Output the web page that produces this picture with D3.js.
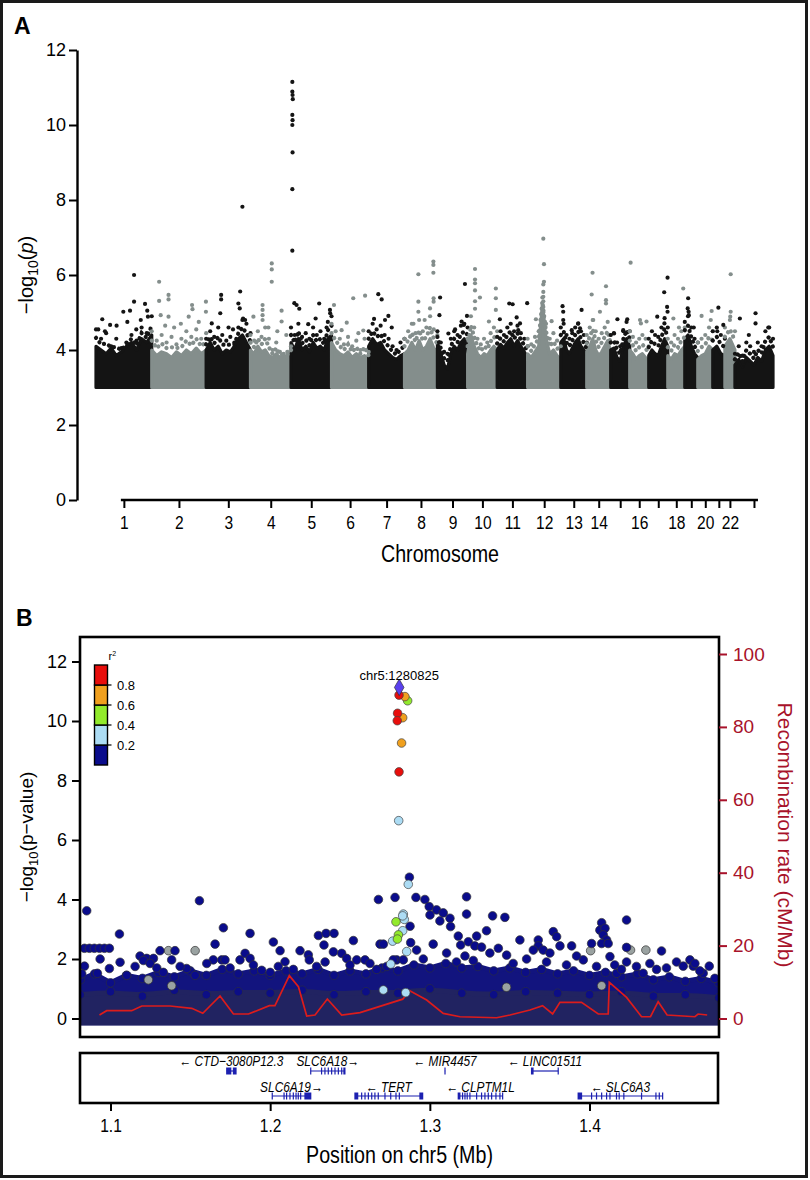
<!DOCTYPE html>
<html><head><meta charset="utf-8">
<script src="https://cdn.jsdelivr.net/npm/d3@7"></script>
<style>body{margin:0;background:#fff}svg{display:block}</style>
</head><body>
<svg id="chart" width="810" height="1180"></svg>
<script>
// ================= DATA =================
// Panel A: Manhattan plot
const chromNames = ["1","2","3","4","5","6","7","8","9","10","11","12","13","14","15","16","17","18","19","20","21","22","23"];
const chromSpanMb = [249,243,198,181,181,166,160,147,135,132,136,148,116,107,85,85,85,76,58,67,54,45,170];
const chromTickLabels = ["1","2","3","4","5","6","7","8","9","10","11","12","13","14","","16","","18","","20","","22",""];
const gwasFloor = 3;
const yTicksA = [0,2,4,6,8,10,12];
// top of the solid mass of SNPs, sampled evenly along each chromosome (-log10 p)
const denseCore = [
  [4.1,4.0,3.9,4.05,3.85,3.95,4.1,4.2,4.0,4.3,4.2,4.4],
  [4.0,3.85,3.95,3.9,3.8,3.95,3.85,4.0,3.9,4.05,3.9,4.0],
  [4.0,4.2,4.0,4.1,3.9,4.0,3.95,4.1,4.3,4.4,4.2,4.0],
  [4.0,3.9,4.1,3.95,4.0,3.85,3.8,3.9,3.8,3.85,3.8,3.9],
  [4.2,4.0,4.3,4.0,4.1,3.95,4.2,4.05,4.1,4.0,4.3,4.4],
  [4.2,4.0,3.9,3.85,3.95,3.8,3.9,3.8,3.85,3.75],
  [4.1,4.3,4.15,4.2,4.0,3.9,3.8,3.75,3.85,3.9],
  [3.9,4.0,4.2,4.0,4.25,4.0,4.1,4.3,4.05,3.95],
  [4.2,3.9,3.6,3.5,3.9,4.1,4.0,4.2,4.3,4.2],
  [3.9,4.4,4.1,3.9,3.8,3.9,3.85,4.0,4.1,4.0],
  [4.0,4.15,4.05,4.2,4.3,4.1,4.25,4.1,3.95,3.8],
  [3.9,3.8,3.95,4.1,5.2,4.3,3.9,4.0,3.85,3.75],
  [4.2,4.3,4.0,3.9,4.05,4.2,4.3,4.1,4.0,3.85],
  [3.95,4.1,4.3,4.0,3.85,3.95,4.1,4.25,3.95],
  [4.0,4.05,3.8,3.7,4.1,4.3,4.1],
  [4.0,3.9,3.75,3.85,3.9,3.8,3.7],
  [3.85,4.0,3.9,3.85,4.1,4.3,4.1],
  [3.85,3.75,3.9,3.85,4.0,4.1],
  [4.3,4.4,4.1,3.9,3.8],
  [3.75,3.85,3.9,4.1,4.0],
  [4.0,4.1,3.9,3.85],
  [4.1,4.3,4.0],
  [3.6,3.75,3.55,3.8,3.7,3.6,3.8,3.7,4.0,4.1,3.85]
];
// scattered SNPs just above the solid mass, sampled evenly along each chromosome
const denseFringe = [
  [4.55,4.3,4.45,4.1,4.3,4.05,4.2,4.4,4.25,4.6,4.45,4.9],
  [4.5,4.25,4.4,4.2,4.35,4.15,4.3,4.5,4.35,4.55,4.3,4.45],
  [4.3,4.5,4.35,4.6,4.4,4.25,4.35,4.2,4.6,4.8,4.7,4.45],
  [4.4,4.25,4.5,4.35,4.6,4.3,4.0,4.2,3.95,3.9,3.95,4.1],
  [4.6,4.4,4.7,4.35,4.45,4.3,4.6,4.4,4.5,4.3,4.75,4.9],
  [4.7,4.5,4.3,4.15,4.35,4.1,4.25,4.0,4.3,3.95],
  [4.5,4.7,4.55,4.65,4.4,4.3,4.1,4.0,4.2,4.3],
  [4.3,4.5,4.7,4.45,4.8,4.5,4.6,4.9,4.55,4.4],
  [4.5,4.2,3.95,3.9,4.3,4.5,4.4,4.65,4.7,4.6],
  [4.3,4.9,4.6,4.3,4.15,4.3,4.2,4.45,4.6,4.5],
  [4.35,4.5,4.4,4.6,4.7,4.5,4.65,4.45,4.3,4.1],
  [4.3,4.15,4.35,4.5,5.4,4.7,4.3,4.45,4.25,4.1],
  [4.6,4.7,4.4,4.3,4.45,4.6,4.7,4.5,4.4,4.2],
  [4.4,4.6,4.8,4.5,4.3,4.45,4.6,4.75,4.4],
  [4.4,4.45,4.2,4.1,4.5,4.75,4.5],
  [4.5,4.35,4.2,4.3,4.4,4.3,4.1],
  [4.3,4.5,4.4,4.35,4.6,4.85,4.6],
  [4.3,4.2,4.4,4.3,4.5,4.6],
  [4.75,4.9,4.6,4.3,4.2],
  [4.2,4.3,4.4,4.6,4.5],
  [4.5,4.6,4.4,4.3],
  [4.6,4.8,4.5],
  [3.9,4.1,3.85,4.2,4.1,3.95,4.2,4.1,4.5,4.6,4.3]
];
// individual SNPs above the dense mass: [chromosome, position in chromosome (Mb), -log10 p]
const gwasPeaks = [
  [1,28,4.82],[1,170,6.0],[1,170,5.29],[1,122,5.02],[1,152,5.05],[1,219,5.23],[1,229,5.05],[1,63,4.67],[1,92,4.65],[1,232,4.89],[1,40,4.5],[1,140,4.75],[1,200,4.8],[1,180,4.55],[1,10,4.55],
  [2,33,5.82],[2,33,5.31],[2,75,5.47],[2,75,5.35],[2,40,4.93],[2,75,4.89],[2,180,5.2],[2,182,5.09],[2,165,4.89],[2,242,5.29],[2,242,5.02],[2,100,4.6],[2,130,4.7],[2,210,4.75],[2,60,4.65],
  [3,162,7.82],[3,67,5.47],[3,67,5.35],[3,63,4.98],[3,152,5.56],[3,144,5.24],[3,150,5.11],[3,25,4.71],[3,165,4.84],[3,174,4.8],[3,100,4.6],[3,120,4.55],
  [4,95,6.31],[4,95,6.15],[4,95,5.82],[4,54,5.2],[4,54,5.07],[4,54,4.93],[4,54,4.8],[4,139,5.05],[4,139,4.76],[4,13,4.89],[4,80,4.6],[4,120,4.5],[4,160,4.4],
  [5,6,11.15],[5,6,10.89],[5,7,10.8],[5,8,10.69],[5,6,10.27],[5,7,10.13],[5,6,10.0],[5,7,9.27],[5,6,8.29],[5,6,6.65],[5,15,5.25],[5,25,5.2],[5,37,5.1],[5,126,5.24],[5,110,4.84],[5,77,4.69],[5,174,5.07],[5,175,4.98],[5,159,4.6],
  [6,97,5.38],[6,150,5.45],[6,11,5.2],[6,68,4.73],[6,142,4.52],[6,45,4.53],[6,120,4.45],
  [7,43,5.49],[7,58,5.35],[7,88,4.91],[7,24,4.83],[7,73,4.8],[7,103,4.6],
  [8,62,6.02],[8,62,5.29],[8,62,5.02],[8,129,6.36],[8,129,6.27],[8,129,6.06],[8,114,5.11],[8,130,5.38],[8,130,5.29],[8,90,4.8],[8,40,4.7],
  [9,12,5.4],[9,9,4.93],[9,123,5.76],[9,132,4.91],[9,49,4.44],[9,79,4.55],[9,108,4.76],[9,118,4.67],
  [10,33,6.16],[10,33,5.88],[10,33,5.78],[10,33,5.59],[10,55,5.4],[10,126,5.64],[10,126,5.38],[10,126,5.07],[10,95,4.76],[10,33,5.3],[10,33,5.1],
  [11,12,4.82],[11,54,5.24],[11,69,5.22],[11,134,5.25],[11,87,4.87],[11,102,4.71],[11,94,4.53],
  [12,70,6.97],[12,73,6.29],[12,73,5.82],[12,70,5.75],[12,70,5.55],[12,70,5.42],[12,70,5.3],[12,70,5.15],[12,70,5.0],[12,70,4.85],[12,37,4.82],[12,107,4.77],
  [13,8,5.17],[13,11,5.02],[13,11,4.8],[13,93,5.07],[13,78,4.71],[13,86,4.58],[13,49,4.53],
  [14,26,6.06],[14,22,5.48],[14,86,5.7],[14,86,5.33],[14,86,5.24],[14,59,5.02],[14,29,4.8],
  [15,30,4.82],[15,74,4.82],[15,15,4.44],[15,56,4.53],
  [16,4,6.33],[16,46,4.8],[16,50,4.71],[16,75,4.76],
  [17,38,4.89],[17,69,5.54],[17,84,5.93],[17,82,5.15],[17,84,5.02],[17,70,4.71],
  [18,69,5.64],[18,25,4.84],[18,50,4.6],
  [19,15,5.38],[19,13,5.11],[19,17,5.02],[19,18,4.93],[19,40,4.6],
  [20,17,4.91],[20,62,5.04],[20,58,4.8],
  [21,25,5.13],[21,47,4.67],[21,20,4.5],
  [22,26,6.02],[22,26,5.02],[22,24,4.89],
  [23,22,4.84],[23,62,4.4],[23,92,4.98],[23,92,4.71],[23,149,4.6]
];

// Panel B: regional plot around TERT (chr5)
const yTicksB = [0,2,4,6,8,10,12];
const recombTicks = [0,20,40,60,80,100];
const xTicksB = [1.1,1.2,1.3,1.4];
const ldBreaks = [0.2,0.4,0.6,0.8];
const ldColors = ["#0a0c8c","#acdcf4","#92ea2c","#f0a01e","#e80e0c"];
const noLdColor = "#9aa2a1";
const indexSnp = {label:"chr5:1280825", mb:1.280825, logp:11.13};
const carpetBase = -0.15;
// top of the dense carpet of low-signal SNPs: [Mb, -log10 p]
const carpetTop = [[1.081,1.3],[1.09,1.5],[1.10,1.2],[1.11,1.45],[1.12,1.35],[1.13,1.55],[1.14,1.4],[1.15,1.6],[1.16,1.45],[1.17,1.65],[1.18,1.5],[1.19,1.6],[1.20,1.45],[1.21,1.6],[1.22,1.5],[1.23,1.65],[1.24,1.45],[1.25,1.6],[1.26,1.5],[1.27,1.7],[1.28,1.6],[1.29,1.8],[1.30,1.7],[1.31,1.85],[1.32,1.7],[1.33,1.75],[1.34,1.6],[1.35,1.7],[1.36,1.55],[1.37,1.65],[1.38,1.5],[1.39,1.6],[1.40,1.45],[1.41,1.55],[1.42,1.4],[1.43,1.5],[1.44,1.3],[1.45,1.4],[1.46,1.25],[1.47,1.35],[1.481,1.2]];
const carpetCore = [[1.081,0.8],[1.10,0.9],[1.12,0.75],[1.14,0.95],[1.16,0.8],[1.18,0.9],[1.20,0.85],[1.22,0.95],[1.24,0.8],[1.26,0.9],[1.28,0.85],[1.30,1.0],[1.32,0.85],[1.34,0.8],[1.36,0.9],[1.38,0.85],[1.40,0.8],[1.42,0.9],[1.44,0.75],[1.46,0.8],[1.481,0.7]];
// SNPs above the carpet: [Mb, -log10 p, r2] (r2 null = no LD information)
const regionSnps = [
  [1.0851,3.62,0.1],[1.0837,2.36,0.1],[1.0868,2.36,0.1],[1.0899,2.36,0.1],[1.0931,2.36,0.1],[1.0962,2.36,0.1],[1.0993,2.36,0.1],[1.0837,1.76,0.1],[1.0935,2.0,0.1],[1.1056,2.84,0.1],[1.0993,1.68,0.1],[1.0918,1.52,0.1],[1.1060,1.89,0.1],
  [1.1185,2.1,0.1],[1.1227,2.02,0.1],[1.1269,2.02,0.1],[1.1310,2.28,0.1],[1.1404,2.28,0.1],[1.1383,1.97,0.1],[1.1557,3.96,0.1],[1.1477,1.68,0.1],[1.1655,2.5,0.1],[1.1644,1.97,0.1],[1.1697,1.97,0.1],[1.1717,1.97,0.1],[1.1707,3.05,0.1],
  [1.1811,1.97,0.1],[1.1843,2.19,0.1],[1.1874,2.02,0.1],[1.1874,2.86,0.1],[1.2020,2.57,0.1],[1.2062,2.28,0.1],[1.2093,1.91,0.1],[1.2187,2.28,0.1],[1.2239,2.14,0.1],[1.2245,1.97,0.1],[1.2302,2.79,0.1],[1.2337,2.47,0.1],
  [1.2350,2.86,0.1],[1.2400,2.86,0.1],[1.2396,2.24,0.1],[1.2448,2.19,0.1],[1.2479,2.02,0.1],[1.2521,2.62,0.1],[1.2542,1.97,0.1],[1.2594,1.97,0.1],[1.2625,1.85,0.1],[1.2678,4.0,0.1],[1.2688,2.5,0.1],[1.2709,2.5,0.1],
  [1.2782,4.07,0.1],[1.2872,4.75,0.1],[1.2913,4.07,0.1],[1.2876,3.1,0.1],[1.2880,2.55,0.1],[1.2792,1.97,0.1],[1.2834,1.97,0.1],
  [1.2969,4.0,0.1],[1.2996,3.76,0.1],[1.3042,3.65,0.1],[1.3084,3.55,0.1],[1.3001,3.48,0.1],[1.3063,3.28,0.1],[1.3126,3.37,0.1],[1.3130,3.09,0.1],[1.3178,2.77,0.1],[1.3230,4.09,0.1],[1.3230,3.51,0.1],
  [1.3193,2.47,0.1],[1.3241,2.58,0.1],[1.3293,2.77,0.1],[1.3282,2.44,0.1],[1.3355,2.95,0.1],[1.3393,3.45,0.1],[1.3470,3.4,0.1],[1.3429,2.36,0.1],[1.3481,2.13,0.1],[1.3564,2.64,0.1],[1.3679,2.64,0.1],[1.3679,2.44,0.1],
  [1.3648,2.3,0.1],[1.3710,2.3,0.1],[1.3773,2.92,0.1],[1.3794,2.75,0.1],[1.3815,2.44,0.1],[1.3888,2.44,0.1],[1.3961,1.97,0.1],[1.4013,2.52,0.1],[1.4076,3.22,0.1],[1.4065,2.97,0.1],[1.4097,3.03,0.1],[1.4086,2.81,0.1],
  [1.4107,2.64,0.1],[1.4076,2.52,0.1],[1.4117,2.52,0.1],[1.4128,2.08,0.1],[1.4170,1.52,0.1],[1.4232,3.31,0.1],[1.4232,2.39,0.1],[1.4232,1.9,0.1],[1.4378,1.85,0.1],[1.4336,1.52,0.1],[1.4451,2.27,0.1],[1.4545,1.9,0.1],
  [1.4587,1.76,0.1],[1.4629,1.97,0.1],[1.4650,1.76,0.1],[1.4660,1.85,0.1],[1.4712,1.52,0.1],[1.4750,1.76,0.1],[1.4785,1.35,0.1],
  [1.0820,1.5,0.1],[1.1102,1.45,0.1],[1.1154,1.75,0.1],[1.1206,1.95,0.1],[1.1248,1.85,0.1],[1.1290,1.7,0.1],[1.1331,1.55,0.1],[1.1436,1.75,0.1],[1.1530,1.45,0.1],[1.1603,1.85,0.1],[1.1749,1.7,0.1],[1.1895,1.8,0.1],
  [1.1947,1.62,0.1],[1.2000,1.55,0.1],[1.2051,1.75,0.1],[1.2145,1.65,0.1],[1.2291,1.75,0.1],[1.2344,1.9,0.1],[1.2500,1.8,0.1],[1.2667,1.65,0.1],[1.2730,1.75,0.1],[1.2771,1.97,0.1],
  [1.2917,2.3,0.1],[1.2959,2.0,0.1],[1.3021,2.5,0.1],[1.3105,2.2,0.1],[1.3167,1.9,0.1],[1.3220,2.1,0.1],[1.3272,1.95,0.1],[1.3324,2.4,0.1],[1.3376,2.2,0.1],[1.3522,1.85,0.1],[1.3606,2.0,0.1],[1.3731,1.9,0.1],
  [1.3752,2.2,0.1],[1.3856,1.8,0.1],[1.3919,2.1,0.1],[1.4044,1.75,0.1],[1.4158,1.8,0.1],[1.4200,1.65,0.1],[1.4294,1.75,0.1],[1.4420,1.65,0.1],[1.4482,1.7,0.1],[1.4691,1.6,0.1],
  [1.1363,2.28,null],[1.1530,2.28,null],[1.4007,2.28,null],[1.4257,2.3,null],[1.4353,2.3,null],[1.1237,1.3,null],[1.1383,1.1,null],[1.3480,1.05,null],[1.4076,1.1,null],
  [1.2805,6.65,0.3],[1.2865,4.51,0.3],[1.2834,3.51,0.3],[1.2840,3.33,0.3],[1.2830,2.95,0.3],[1.2767,2.6,0.3],[1.2855,2.25,0.3],[1.2755,1.83,0.3],[1.2709,0.96,0.3],[1.2849,0.87,0.3],[1.2830,3.45,0.3],
  [1.2861,10.68,0.5],[1.2788,3.25,0.5],[1.2803,2.81,0.5],[1.2797,2.67,0.5],
  [1.2844,10.82,0.7],[1.2830,10.11,0.7],[1.2823,9.26,0.7],
  [1.2807,10.87,0.9],[1.2798,10.26,0.9],[1.2796,10.01,0.9],[1.2807,8.29,0.9]
];
// recombination rate (cM/Mb)
const recombRate = [[1.0931,0.96],[1.0976,2.15],[1.1133,2.15],[1.1196,3.43],[1.1373,3.43],[1.1509,2.79],[1.1578,1.42],[1.1686,6.17],[1.1770,1.23],[1.1864,1.23],[1.1995,3.52],[1.2030,3.52],[1.2120,11.75],[1.2177,8.73],[1.2229,0.69],[1.2281,0.96],[1.2358,5.35],[1.2448,0.96],[1.2563,1.6],[1.2830,5.3],[1.2875,7.6],[1.2980,5.07],[1.3084,1.4],[1.3189,0.48],[1.3418,0.21],[1.3502,0.96],[1.3627,2.33],[1.3706,3.52],[1.3769,1.23],[1.3815,4.43],[1.3950,4.43],[1.4055,1.23],[1.4117,1.23],[1.4124,9.93],[1.4232,5.8],[1.4326,0.48],[1.4382,0.48],[1.4430,4.6],[1.4486,0.96],[1.4660,0.48],[1.4680,1.23],[1.4737,0.96]];
// genes
const geneNames = ["CTD\u22123080P12.3","SLC6A18","MIR4457","LINC01511","SLC6A19","TERT","CLPTM1L","SLC6A3"];
const geneStrand = ["-","+","-","-","+","-","-","-"];
const geneRow = [0,0,0,0,1,1,1,1];
const geneStartMb = [1.1728,1.2254,1.3094,1.3637,1.2013,1.2531,1.3178,1.3929];
const geneEndMb = [1.1786,1.2468,1.3096,1.3804,1.2254,1.2955,1.3456,1.4458];
const geneExonsMb = [
  [[1.1728,1.1753],[1.1770,1.1786]],
  [[1.2254,1.2254],[1.2322,1.2322],[1.2343,1.2343],[1.2364,1.2364],[1.2385,1.2385],[1.2406,1.2406],[1.2427,1.2427],[1.2448,1.2448],[1.2462,1.2468]],
  [[1.3095,1.3095]],
  [[1.3637,1.3646],[1.3804,1.3804]],
  [[1.2013,1.2013],[1.2087,1.2087],[1.2103,1.2103],[1.2124,1.2124],[1.2145,1.2145],[1.2162,1.2162],[1.2176,1.2176],[1.2191,1.2191],[1.2218,1.2254]],
  [[1.2531,1.2548],[1.2573,1.2573],[1.2594,1.2594],[1.2615,1.2615],[1.2636,1.2636],[1.2656,1.2656],[1.2677,1.2677],[1.2719,1.2719],[1.2755,1.2755],[1.2788,1.2788],[1.2809,1.2809],[1.2938,1.2955]],
  [[1.3178,1.3188],[1.3205,1.3205],[1.3220,1.3220],[1.3234,1.3234],[1.3251,1.3251],[1.3293,1.3293],[1.3324,1.3324],[1.3345,1.3345],[1.3366,1.3366],[1.3387,1.3387],[1.3414,1.3414],[1.3439,1.3439],[1.3456,1.3456]],
  [[1.3929,1.3950],[1.4013,1.4013],[1.4044,1.4044],[1.4076,1.4076],[1.4107,1.4107],[1.4128,1.4128],[1.4169,1.4169],[1.4186,1.4186],[1.4215,1.4215],[1.4326,1.4326],[1.4416,1.4416],[1.4437,1.4437],[1.4458,1.4458]]
];

// ================= DRAWING =================
const SANS = "'Liberation Sans',Arial,Helvetica,sans-serif";
const NARROW_SCALE = "scale(0.82,1)";
const svg = d3.select("#chart");
svg.append("rect").attr("width",810).attr("height",1180).attr("fill","#fff");
svg.append("rect").attr("x",1.5).attr("y",1.5).attr("width",805).attr("height",1175)
  .attr("fill","none").attr("stroke","#1a1a1a").attr("stroke-width",3);

// ---------- Panel A ----------
const gA = svg.append("g");
const chromStart = chromSpanMb.map((d,i)=>d3.sum(chromSpanMb.slice(0,i)));
const genomeMb = d3.sum(chromSpanMb);
const xA = d3.scaleLinear().domain([0,genomeMb]).range([96,773]);
const yA = d3.scaleLinear().domain([0,12]).range([500,50]);
const chromColor = i => (i % 2 === 0) ? "#141414" : "#848e8c";
const evenly = (vals,i) => vals.map((v,j)=>({pos: chromStart[i] + chromSpanMb[i]*(vals.length>1 ? j/(vals.length-1) : 0.5), v}));

denseCore.forEach((vals,i)=>{
  gA.append("path").datum(evenly(vals,i))
    .attr("d", d3.area().x(d=>xA(d.pos)).y0(yA(gwasFloor)).y1(d=>yA(d.v)))
    .attr("fill",chromColor(i)).attr("stroke",chromColor(i))
    .attr("stroke-width",3.2).attr("stroke-linejoin","round");
});
denseFringe.forEach((vals,i)=>{
  const pts = evenly(vals,i);
  gA.selectAll(null).data(pts).enter().append("circle")
    .attr("cx",d=>xA(d.pos)).attr("cy",d=>yA(d.v)).attr("r",2.1)
    .attr("fill",chromColor(i));
  gA.append("path").datum(pts.map((d,j)=>({pos:d.pos, v:(d.v+denseCore[i][Math.min(j,denseCore[i].length-1)])/2})))
    .attr("d", d3.line().x(d=>xA(d.pos)).y(d=>yA(d.v)))
    .attr("fill","none").attr("stroke",chromColor(i)).attr("stroke-width",4.2)
    .attr("stroke-dasharray","0.1 5.5").attr("stroke-linecap","round");
});
gA.selectAll(".peak").data(gwasPeaks).enter().append("circle")
  .attr("cx",d=>xA(chromStart[d[0]-1]+d[1])).attr("cy",d=>yA(d[2])).attr("r",2.1)
  .attr("fill",d=>chromColor(d[0]-1));

const axYA = gA.append("g").attr("transform","translate(77,0)")
  .call(d3.axisLeft(yA).tickValues(yTicksA).tickSize(8).tickSizeOuter(0));
axYA.select(".domain").attr("stroke","#000").attr("stroke-width",2.4);
axYA.selectAll(".tick line").attr("stroke","#000").attr("stroke-width",2);
axYA.selectAll(".tick text").attr("font-family",SANS).attr("font-size",18).attr("fill","#000");

const chromCenters = chromStart.map((s,i)=>s+chromSpanMb[i]/2);
const axXA = gA.append("g").attr("transform","translate(0,500)")
  .call(d3.axisBottom(xA).tickValues(chromCenters).tickFormat((d,i)=>chromTickLabels[i]).tickSize(8).tickSizeOuter(0));
axXA.select(".domain").remove();
axXA.selectAll(".tick line").attr("stroke","#000").attr("stroke-width",2);
axXA.selectAll(".tick text").attr("font-family",SANS).attr("font-size",19).attr("fill","#000")
  .attr("y",16).attr("transform",NARROW_SCALE);
gA.append("line").attr("x1",xA(chromCenters[0])-3).attr("x2",xA(chromCenters[chromCenters.length-1])+4)
  .attr("y1",500).attr("y2",500).attr("stroke","#000").attr("stroke-width",2.6);

gA.append("text").attr("transform","translate(440,562) "+NARROW_SCALE).attr("text-anchor","middle")
  .attr("font-family",SANS).attr("font-size",24).text("Chromosome");
const ylabA = gA.append("text").attr("transform","translate(33,275) rotate(-90)").attr("text-anchor","middle")
  .attr("font-family",SANS).attr("font-size",20);
ylabA.append("tspan").text("\u2212log");
ylabA.append("tspan").attr("font-size",14).attr("dy",5).text("10");
ylabA.append("tspan").attr("dy",-5).text("(");
ylabA.append("tspan").attr("font-style","italic").text("p");
ylabA.append("tspan").text(")");
svg.append("text").attr("x",14).attr("y",34).attr("font-family",SANS).attr("font-weight","bold")
  .attr("font-size",23).text("A");

// ---------- Panel B ----------
const gB = svg.append("g");
const frame = {x:80, y:637, w:639, h:400};
const xB = d3.scaleLinear().domain([1.0809,1.4811]).range([80,719]);
const yB = d3.scaleLinear().domain([0,12]).range([1018.5,661.5]);
const yR = d3.scaleLinear().domain([0,100]).range([1018.5,654]);
const ldColor = d3.scaleThreshold().domain(ldBreaks).range(ldColors);

svg.append("defs").append("clipPath").attr("id","clipB").append("rect")
  .attr("x",frame.x).attr("y",frame.y).attr("width",frame.w).attr("height",frame.h);
const plotB = gB.append("g").attr("clip-path","url(#clipB)");

plotB.append("path").datum(carpetTop)
  .attr("d", d3.area().x(d=>xB(d[0])).y0(yB(carpetBase)).y1(d=>yB(d[1])))
  .attr("fill","#12147e").attr("stroke","#12147e").attr("stroke-width",5).attr("stroke-linejoin","round");
plotB.append("path").datum(carpetCore)
  .attr("d", d3.area().x(d=>xB(d[0])).y0(yB(carpetBase)).y1(d=>yB(d[1])).curve(d3.curveBasis))
  .attr("fill","#303246").attr("stroke","#303246").attr("stroke-width",5).attr("opacity",0.5);
plotB.selectAll(".ct").data(carpetTop).enter().append("circle")
  .attr("cx",d=>xB(d[0])).attr("cy",d=>yB(d[1])).attr("r",4.3)
  .attr("fill","#0c0e86").attr("stroke","#2a2c44").attr("stroke-width",0.7);
plotB.selectAll(".cc").data(carpetCore).enter().append("circle")
  .attr("cx",d=>xB(d[0])).attr("cy",d=>yB(d[1])).attr("r",4.3)
  .attr("fill","#0c0e86").attr("stroke","#2a2c44").attr("stroke-width",0.7);

const snpOrder = regionSnps.slice().sort((a,b)=>(a[2]===null?-1:a[2]) - (b[2]===null?-1:b[2]));
const lowSnps = snpOrder.filter(d=>d[2]===null || d[2] < 0.2);
const hiSnps = snpOrder.filter(d=>d[2]!==null && d[2] >= 0.2);
plotB.selectAll(".lo").data(lowSnps).enter().append("circle")
  .attr("cx",d=>xB(d[0])).attr("cy",d=>yB(d[1])).attr("r",4.3)
  .attr("fill",d=>d[2]===null?noLdColor:ldColor(d[2])).attr("stroke","#333").attr("stroke-width",0.7);

plotB.append("path").datum(recombRate)
  .attr("d", d3.line().x(d=>xB(d[0])).y(d=>yR(d[1])))
  .attr("fill","none").attr("stroke","#dc1c1c").attr("stroke-width",1.7);

plotB.selectAll(".hi").data(hiSnps).enter().append("circle")
  .attr("cx",d=>xB(d[0])).attr("cy",d=>yB(d[1])).attr("r",4.3)
  .attr("fill",d=>ldColor(d[2])).attr("stroke","#444").attr("stroke-width",0.7);
plotB.append("path")
  .attr("d", d3.symbol(d3.symbolDiamond, 80)())
  .attr("transform",`translate(${xB(indexSnp.mb)},${yB(indexSnp.logp)})`)
  .attr("fill","#5a40ee").attr("stroke","#333").attr("stroke-width",0.7);
gB.append("text").attr("x",xB(indexSnp.mb)).attr("y",680).attr("text-anchor","middle")
  .attr("font-family",SANS).attr("font-size",13).text(indexSnp.label);

gB.append("rect").attr("x",frame.x).attr("y",frame.y).attr("width",frame.w).attr("height",frame.h)
  .attr("fill","none").attr("stroke","#000").attr("stroke-width",2.6);

const axYB = gB.append("g").attr("transform","translate(80,0)")
  .call(d3.axisLeft(yB).tickValues(yTicksB).tickSize(8).tickSizeOuter(0));
axYB.select(".domain").remove();
axYB.selectAll(".tick line").attr("stroke","#000").attr("stroke-width",2);
axYB.selectAll(".tick text").attr("font-family",SANS).attr("font-size",18).attr("fill","#000").attr("x",-13);

const axR = gB.append("g").attr("transform","translate(719,0)")
  .call(d3.axisRight(yR).tickValues(recombTicks).tickSize(8).tickSizeOuter(0));
axR.select(".domain").remove();
axR.selectAll(".tick line").attr("stroke","#a8122a").attr("stroke-width",2);
axR.selectAll(".tick text").attr("font-family",SANS).attr("font-size",19).attr("fill","#a8122a").attr("x",14);

const ylabB = gB.append("text").attr("transform","translate(33,837) rotate(-90)").attr("text-anchor","middle")
  .attr("font-family",SANS).attr("font-size",19);
ylabB.append("tspan").text("\u2212log");
ylabB.append("tspan").attr("font-size",13).attr("dy",5).text("10");
ylabB.append("tspan").attr("dy",-5).text("(p\u2212value)");
gB.append("text").attr("transform","translate(778,835) rotate(90)").attr("text-anchor","middle")
  .attr("font-family",SANS).attr("font-size",21).attr("fill","#a8122a").text("Recombination rate (cM/Mb)");

// legend
const legY = d3.scaleLinear().domain([0,1]).range([765,665]);
const legBins = [0].concat(ldBreaks).map((lo,i,arr)=>({lo, hi: i<arr.length-1?arr[i+1]:1, c: ldColors[i]}));
const leg = gB.append("g");
leg.selectAll("rect").data(legBins).enter().append("rect")
  .attr("x",94.5).attr("width",13).attr("y",d=>legY(d.hi)).attr("height",d=>legY(d.lo)-legY(d.hi))
  .attr("fill",d=>d.c).attr("stroke","#000").attr("stroke-width",1.4);
leg.selectAll(".lt").data(ldBreaks).enter().append("line")
  .attr("x1",107.5).attr("x2",111.5).attr("y1",d=>legY(d)).attr("y2",d=>legY(d)).attr("stroke","#000").attr("stroke-width",1.2);
leg.selectAll("text.ll").data(ldBreaks).enter().append("text")
  .attr("x",117).attr("y",d=>legY(d)+4.5).attr("font-family",SANS).attr("font-size",13).text(d=>d.toFixed(1));
const r2t = leg.append("text").attr("x",108.5).attr("y",660).attr("font-family",SANS).attr("font-size",11);
r2t.append("tspan").text("r");
r2t.append("tspan").attr("font-size",7).attr("dy",-4).text("2");

// gene track
const track = {x:80, y:1053, w:638, h:50};
const rowLineY = [1071,1096], rowTextY = [1066,1091.5];
const gG = gB.append("g");
gG.append("rect").attr("x",track.x).attr("y",track.y).attr("width",track.w).attr("height",track.h)
  .attr("fill","none").attr("stroke","#000").attr("stroke-width",2.6);
geneNames.forEach((name,i)=>{
  const yy = rowLineY[geneRow[i]];
  const geneBlue = "#1c20b0";
  gG.append("line").attr("x1",xB(geneStartMb[i])).attr("x2",xB(geneEndMb[i]))
    .attr("y1",yy).attr("y2",yy).attr("stroke",geneBlue).attr("stroke-width",1.2);
  gG.selectAll(null).data(geneExonsMb[i]).enter().append("rect")
    .attr("x",d=>xB(d[0])-0.6).attr("width",d=>Math.max(1.2, xB(d[1])-xB(d[0])+1.2))
    .attr("y",yy-3.5).attr("height",7).attr("fill",geneBlue);
  const cx = xB((geneStartMb[i]+geneEndMb[i])/2);
  const label = geneStrand[i]==="-" ? "\u2190 " + name : name + "\u2192";
  gG.append("text").attr("transform",`translate(${cx},${rowTextY[geneRow[i]]}) ${NARROW_SCALE}`).attr("text-anchor","middle")
    .attr("font-family",SANS).attr("font-style","italic").attr("font-size",14.5).text(label);
});

const axXB = gB.append("g").attr("transform","translate(0,1103)")
  .call(d3.axisBottom(xB).tickValues(xTicksB).tickSize(8).tickSizeOuter(0).tickFormat(d3.format(".1f")));
axXB.select(".domain").remove();
axXB.selectAll(".tick line").attr("stroke","#000").attr("stroke-width",2);
axXB.selectAll(".tick text").attr("font-family",SANS).attr("font-size",19).attr("fill","#000")
  .attr("y",16).attr("transform",NARROW_SCALE);
gB.append("text").attr("transform","translate(399.5,1163) "+NARROW_SCALE).attr("text-anchor","middle")
  .attr("font-family",SANS).attr("font-size",24).text("Position on chr5 (Mb)");
svg.append("text").attr("x",16).attr("y",626).attr("font-family",SANS).attr("font-weight","bold")
  .attr("font-size",23).text("B");
</script>
</body></html>
